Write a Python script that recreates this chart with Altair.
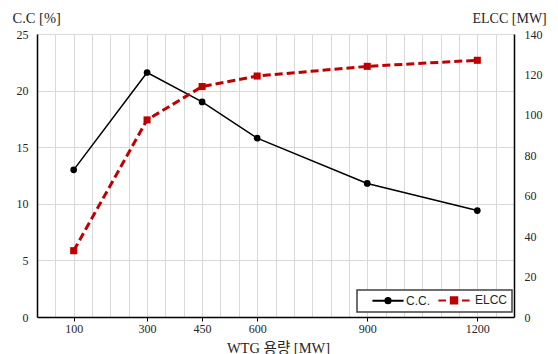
import altair as alt
import pandas as pd

# ---- data ----
capacity = [100, 300, 450, 600, 900, 1200]
cc_values = [13.0, 21.6, 19.0, 15.8, 11.8, 9.4]
elcc_values = [32.8, 97.5, 114.0, 119.2, 124.0, 127.0]
x_tick_labels = [100, 300, 450, 600, 900, 1200]
x_grid_values = list(range(0, 1301, 50))
cc_ticks = [0, 5, 10, 15, 20, 25]
elcc_ticks = [0, 20, 40, 60, 80, 100, 120, 140]
series_names = ["C.C.", "ELCC"]
series_colors = ["#000000", "#C00000"]

df = pd.DataFrame({"cap": capacity, "cc": cc_values, "elcc": elcc_values})
legend_df = pd.DataFrame({"series": series_names})

SERIF = "Liberation Serif, Noto Sans CJK KR, serif"
SANS = "Liberation Sans, Noto Sans, sans-serif"
TXT = "#262626"
GRID = "#d9d9d9"

tick_list = ",".join(str(v) for v in x_tick_labels)
is_label = f"indexof([{tick_list}], datum.value) >= 0"

x_enc = alt.X(
    "cap:Q",
    scale=alt.Scale(domain=[0, 1300], nice=False, zero=False),
    axis=alt.Axis(
        values=x_grid_values, format="d",
        grid=True, gridColor=GRID, gridWidth=1,
        labelExpr=f"{is_label} ? datum.label : ''",
        tickOpacity={"condition": {"test": is_label, "value": 1}, "value": 0},
        tickSize=4, tickColor="#000000", tickWidth=1,
        labelPadding=2, labelFont=SERIF, labelFontSize=12, labelColor=TXT,
        domainColor="#000000", domainWidth=1.5,
        title="WTG 용량 [MW]", titleFont=SERIF, titleFontSize=14.5,
        titleFontWeight="normal", titleColor=TXT,
        titleX=241, titleY=35, titleBaseline="alphabetic", titleAlign="center",
    ),
)

cc_y = alt.Y(
    "cc:Q",
    scale=alt.Scale(domain=[0, 25], nice=False),
    axis=alt.Axis(
        values=cc_ticks, grid=True, gridColor=GRID, ticks=False,
        labelPadding=9, labelFont=SERIF, labelFontSize=12, labelColor=TXT,
        domainColor="#000000", domainWidth=1.5,
        title="C.C [%]", titleFont=SERIF, titleFontSize=14.5,
        titleFontWeight="normal", titleColor=TXT, titleAngle=0,
        titleAlign="left", titleBaseline="alphabetic", titleX=-25, titleY=-12,
    ),
)

elcc_y = alt.Y(
    "elcc:Q",
    scale=alt.Scale(domain=[0, 140], nice=False),
    axis=alt.Axis(
        orient="right", values=elcc_ticks, grid=False, ticks=False,
        labelPadding=10, labelFont=SERIF, labelFontSize=12, labelColor=TXT,
        domainColor="#000000", domainWidth=1.5,
        title="ELCC [MW]", titleFont=SERIF, titleFontSize=14,
        titleFontWeight="normal", titleColor=TXT, titleAngle=0,
        titleAlign="left", titleBaseline="alphabetic", titleX=-42, titleY=-12,
    ),
)

base = alt.Chart(df)
cc_line = base.mark_line(color=series_colors[0], strokeWidth=1.5).encode(x=x_enc, y=cc_y)
cc_pts = base.mark_point(shape="circle", filled=True, size=45, opacity=1,
                         color=series_colors[0]).encode(x=x_enc, y=cc_y)
elcc_line = base.mark_line(color=series_colors[1], strokeWidth=3,
                           strokeDash=[8, 4]).encode(x=x_enc, y=elcc_y)
elcc_pts = base.mark_point(shape="square", filled=True, size=50, opacity=1,
                           color=series_colors[1]).encode(x=x_enc, y=elcc_y)

# legend symbols: line + marker drawn as custom symbol paths
cc_symbol = ("M-2.15,0L5.65,0"
             "M1.1,0A0.65,0.65,0,1,1,2.4,0A0.65,0.65,0,1,1,1.1,0Z")
elcc_symbol = ("M-2.9,0L-1.0,0M3.0,0L4.9,0"
               "M0.2,-0.8L1.8,-0.8L1.8,0.8L0.2,0.8Z")

leg = alt.Legend(
    title=None, orient="none", legendX=320, legendY=256, direction="horizontal",
    symbolSize=64, symbolStrokeWidth=2, symbolOffset=14, symbolOpacity=1,
    labelFont=SANS, labelFontSize=12, labelColor=TXT, labelOffset=19,
    strokeColor="#404040", fillColor="white", padding=4, columnPadding=0,
)

legend_layer = (
    alt.Chart(legend_df)
    .transform_filter("false")
    .mark_point(filled=True, strokeWidth=2, opacity=1)
    .encode(
        shape=alt.Shape("series:N", scale=alt.Scale(domain=series_names,
                        range=[cc_symbol, elcc_symbol]), legend=leg),
        fill=alt.Fill("series:N", scale=alt.Scale(domain=series_names,
                      range=series_colors), legend=leg),
        stroke=alt.Stroke("series:N", scale=alt.Scale(domain=series_names,
                          range=series_colors), legend=leg),
    )
)

chart = (
    alt.layer(
        alt.layer(cc_line, cc_pts),
        alt.layer(elcc_line, elcc_pts),
        legend_layer,
    )
    .resolve_scale(y="independent")
    .properties(
        width=477, height=283,
        autosize=alt.AutoSizeParams(type="none"),
        padding={"left": 29, "top": 26, "right": 36, "bottom": 38},
        background="white",
    )
    .configure_view(stroke=None)
    .configure_legend(strokeWidth=1.5)
)

chart.save("out.html", embed_options={"renderer": "svg", "actions": False})
